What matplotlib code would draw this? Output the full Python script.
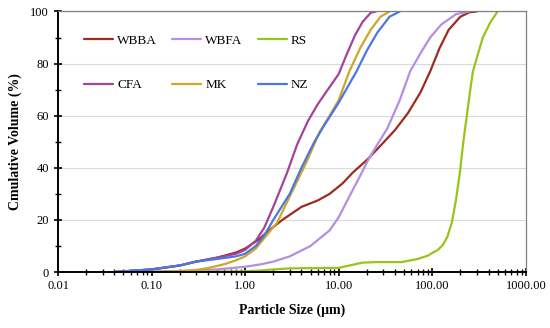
import matplotlib
matplotlib.use("Agg")
import matplotlib.pyplot as plt
from matplotlib.ticker import FixedLocator, NullFormatter, FixedFormatter

plt.rcParams['font.family'] = ['Liberation Serif', 'DejaVu Serif']

# ---- data ----
wbba_x = [0.04, 0.1, 0.2, 0.3, 0.5, 0.8, 1.0, 1.4, 1.8, 2.5, 4.0, 6, 8, 11, 14, 20, 28, 40, 55, 75, 95, 120, 150, 200, 250, 300]
wbba_y = [0, 1, 2.5, 4, 5.5, 7.5, 9, 12.5, 16, 20, 25, 27.5, 30, 34, 38, 43, 48.5, 54.5, 61, 69, 77, 86, 93, 98, 99.7, 100]

wbfa_x = [0.04, 0.1, 0.2, 0.3, 0.5, 1.0, 1.5, 2, 3, 5, 8, 10, 13, 17, 21, 27, 33, 45, 58, 75, 95, 125, 180, 250]
wbfa_y = [0, 0.2, 0.4, 0.6, 1, 2, 3, 4, 6, 10, 16, 21, 29, 37, 43.5, 50, 55, 66, 77, 84, 90, 95, 99, 100]

rs_x = [0.1, 0.3, 0.6, 1, 1.5, 2, 3, 5, 10, 13, 18, 25, 47, 70, 90, 100, 115, 130, 145, 162, 180, 197, 215, 234, 255, 272, 310, 347, 420, 500]
rs_y = [0, 0.1, 0.2, 0.3, 0.6, 1, 1.4, 1.5, 1.6, 2.5, 3.6, 3.8, 3.8, 5, 6.3, 7.3, 8.5, 10.4, 13.5, 19, 28, 38, 50, 60, 70, 77, 84, 90, 96, 100]

cfa_x = [0.04, 0.1, 0.2, 0.3, 0.5, 0.8, 1.0, 1.3, 1.6, 2.0, 2.8, 3.6, 4.7, 6, 8, 10, 12, 15, 18, 22, 25]
cfa_y = [0, 1, 2.5, 4, 5.5, 7, 8.5, 12, 17, 25, 38, 49, 58, 64.5, 71, 76, 83, 91, 96, 99.5, 100]

mk_x = [0.1, 0.2, 0.3, 0.4, 0.6, 0.8, 1.0, 1.3, 1.6, 2.2, 3, 4.5, 6.3, 8, 10, 13, 17, 22, 28, 35]
mk_y = [0, 0.3, 0.8, 1.5, 3, 4.5, 6, 9, 13, 19, 29, 42, 54, 60, 66, 77, 86, 93, 98, 100]

nz_x = [0.04, 0.1, 0.2, 0.3, 0.5, 0.8, 1.0, 1.3, 1.6, 2.0, 3.0, 4.0, 5.5, 6.8, 8, 10, 15.5, 20, 26, 35, 45]
nz_y = [0, 1, 2.5, 4, 5, 6, 7, 10, 14, 20, 30, 40, 50, 55.5, 59.5, 65, 77, 85, 92, 98, 100]

labels = ["WBBA", "WBFA", "RS", "CFA", "MK", "NZ"]
colors = ["#9B2D1F", "#B48FE0", "#99C31C", "#A3449A", "#CFA52A", "#4A78E0"]

x_ticks = [0.01, 0.1, 1, 10, 100, 1000]
x_ticklabels = ["0.01", "0.10", "1.00", "10.00", "100.00", "1000.00"]
y_ticks = [0, 20, 40, 60, 80, 100]

fig = plt.figure(figsize=(5.5, 3.28), dpi=100)
ax = fig.add_axes([0.1055, 0.1707, 0.8505, 0.7943])

series = [(wbba_x, wbba_y), (wbfa_x, wbfa_y), (rs_x, rs_y), (cfa_x, cfa_y), (mk_x, mk_y), (nz_x, nz_y)]
handles = []
for (xs, ys), lab, c in zip(series, labels, colors):
    h, = ax.plot(xs, ys, color=c, lw=1.6, label=lab, solid_joinstyle='round', solid_capstyle='round')
    handles.append(h)

ax.set_xscale('log')
ax.set_xlim(0.01, 1000)
ax.set_ylim(0, 100)

ax.xaxis.set_major_locator(FixedLocator(x_ticks))
ax.xaxis.set_major_formatter(FixedFormatter(x_ticklabels))
ax.set_yticks(y_ticks)
ax.set_yticks([10, 30, 50, 70, 90], minor=True)

ax.grid(axis='y', which='major', color='#d9d9d9', lw=0.8)
ax.set_axisbelow(True)

for s in ['left', 'bottom']:
    ax.spines[s].set_color('black')
    ax.spines[s].set_linewidth(1.4)
for s in ['top', 'right']:
    ax.spines[s].set_color('#808080')
    ax.spines[s].set_linewidth(0.9)

ax.tick_params(axis='both', which='major', direction='inout', length=6, width=1.2, labelsize=9, color='black')
ax.tick_params(axis='both', which='minor', direction='inout', length=4, width=1.0, color='black')
ax.tick_params(axis='x', pad=3)
ax.xaxis.set_minor_formatter(NullFormatter())

ax.set_xlabel("Particle Size (μm)", fontsize=10, fontweight='bold', labelpad=8)
ax.set_ylabel("Cmulative Volume (%)", fontsize=10, fontweight='bold', labelpad=6)

# row-major legend order for a 3-column, 2-row legend
order = [0, 3, 1, 4, 2, 5]
leg = ax.legend([handles[i] for i in order], [labels[i] for i in order],
                loc='upper left', bbox_to_anchor=(0.056, 0.912), ncol=3, frameon=False,
                fontsize=9.5, handlelength=2.2, handletextpad=0.3, columnspacing=1.15,
                labelspacing=2.45, borderpad=0, borderaxespad=0)

fig.savefig("out.png", dpi=100)
